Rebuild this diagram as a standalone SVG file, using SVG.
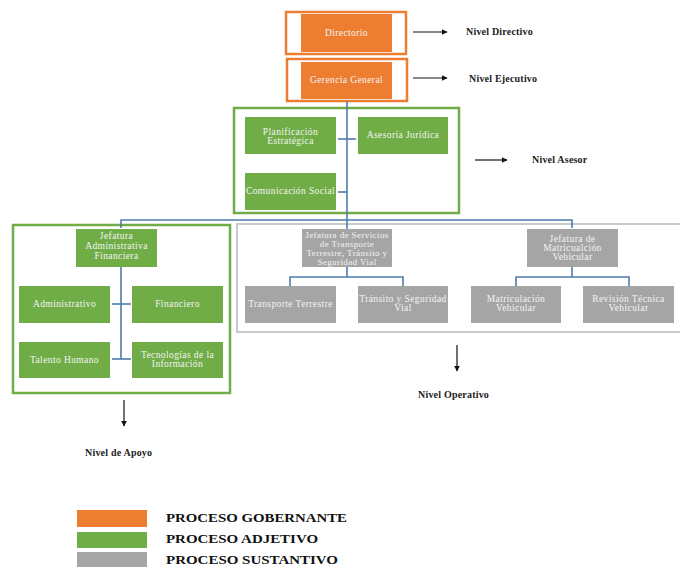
<svg xmlns="http://www.w3.org/2000/svg" width="680" height="567" viewBox="0 0 680 567">
<defs>
<style>
.org{fill:#ED7D31}
.grn{fill:#70AD47}
.gry{fill:#A5A5A5}
.nt{font-family:"Liberation Serif",serif;font-size:9.5px;fill:#F4F4F4;text-anchor:middle;letter-spacing:0.4px}
.nts{font-size:9px}
.lv{font-family:"Liberation Serif",serif;font-size:10px;fill:#222;font-weight:bold;letter-spacing:0.2px}
.lg{font-family:"Liberation Serif",serif;font-size:13px;fill:#111;font-weight:bold}
.con{fill:none;stroke:#4F7BAE;stroke-width:1.6}
.arr{fill:none;stroke:#111;stroke-width:1.2;marker-end:url(#ah)}
</style>
<marker id="ah" viewBox="0 0 10 10" refX="9" refY="5" markerWidth="6" markerHeight="6" markerUnits="userSpaceOnUse" orient="auto">
<path d="M0,0 L10,5 L0,10 z" fill="#111"/>
</marker>
</defs>
<rect width="680" height="567" fill="#fff"/>

<!-- frames -->
<g id="frames">
<rect x="286" y="12" width="120" height="42" fill="none" stroke="#ED7D31" stroke-width="2.5"/>
<rect x="287" y="59" width="120" height="42" fill="none" stroke="#ED7D31" stroke-width="2.5"/>
<rect x="234" y="108" width="225" height="105" fill="none" stroke="#70AD47" stroke-width="2.5"/>
<rect x="13" y="225" width="217" height="168" fill="none" stroke="#70AD47" stroke-width="2.5"/>
<rect x="237" y="224" width="450" height="108" fill="none" stroke="#C9C9C9" stroke-width="2"/>
</g>

<!-- connectors -->
<g id="connectors">
<path class="con" d="M347,101 V221"/>
<path class="con" d="M338,139 H356"/>
<path class="con" d="M338,192 H347"/>
<path class="con" d="M121,228 V220 H572 V228"/>
<path class="con" d="M347,221 V229"/>
<path class="con" d="M121,267 V359"/>
<path class="con" d="M112,304 H131"/>
<path class="con" d="M112,359 H131"/>
<path class="con" d="M347,267 V277"/>
<path class="con" d="M290,286 V277 H403 V286"/>
<path class="con" d="M572,267 V277"/>
<path class="con" d="M516,286 V277 H629 V286"/>
<path class="arr" d="M413,32 H447"/>
<path class="arr" d="M413,78 H447"/>
<path class="arr" d="M475,160 H507"/>
<path class="arr" d="M124,400 V426"/>
<path class="arr" d="M457,345 V371"/>
</g>

<!-- nodes -->
<g id="directorio"><rect class="org" x="301" y="14" width="91" height="38"/><text class="nt" x="346.5" y="36">Directorio</text></g>
<g id="gerencia"><rect class="org" x="301" y="62" width="91" height="37"/><text class="nt" x="346.5" y="83">Gerencia General</text></g>

<g id="planificacion"><rect class="grn" x="245" y="117" width="91" height="37"/><text class="nt" x="290.5" y="135">Planificación</text><text class="nt" x="290.5" y="144">Estratégica</text></g>
<g id="asesoria"><rect class="grn" x="358" y="117" width="90" height="37"/><text class="nt" x="403" y="138">Asesoría Jurídica</text></g>
<g id="comunicacion"><rect class="grn" x="245" y="173" width="91" height="37"/><text class="nt" x="290.5" y="194">Comunicación Social</text></g>

<g id="jef-adm"><rect class="grn" x="76" y="229" width="81" height="38"/><text class="nt" x="116.5" y="239">Jefatura</text><text class="nt" x="116.5" y="249">Administrativa</text><text class="nt" x="116.5" y="259">Financiera</text></g>
<g id="administrativo"><rect class="grn" x="19" y="286" width="91" height="37"/><text class="nt" x="64.5" y="307">Administrativo</text></g>
<g id="financiero"><rect class="grn" x="132" y="286" width="91" height="37"/><text class="nt" x="177.5" y="307">Financiero</text></g>
<g id="talento"><rect class="grn" x="19" y="342" width="91" height="36"/><text class="nt" x="64.5" y="363">Talento Humano</text></g>
<g id="tecnologias"><rect class="grn" x="132" y="342" width="91" height="36"/><text class="nt" x="177.5" y="358">Tecnologías de la</text><text class="nt" x="177.5" y="367">Información</text></g>

<g id="jef-servicios"><rect class="gry" x="302" y="229" width="90" height="38"/><text class="nt nts" x="347" y="238">Jefatura de Servicios</text><text class="nt nts" x="347" y="247">de Transporte</text><text class="nt nts" x="347" y="256">Terrestre, Tránsito y</text><text class="nt nts" x="347" y="265">Seguridad Vial</text></g>
<g id="jef-matriculacion"><rect class="gry" x="527" y="229" width="91" height="38"/><text class="nt" x="572.5" y="242">Jefatura de</text><text class="nt" x="572.5" y="251">Matricualción</text><text class="nt" x="572.5" y="260">Vehicular</text></g>
<g id="transporte"><rect class="gry" x="245" y="286" width="91" height="37"/><text class="nt" x="290.5" y="307">Transporte Terrestre</text></g>
<g id="transito"><rect class="gry" x="358" y="286" width="90" height="37"/><text class="nt" x="403" y="302">Tránsito y Seguridad</text><text class="nt" x="403" y="311">Vial</text></g>
<g id="matriculacion"><rect class="gry" x="471" y="286" width="90" height="37"/><text class="nt" x="516" y="302">Matriculación</text><text class="nt" x="516" y="311">Vehicular</text></g>
<g id="revision"><rect class="gry" x="583" y="286" width="91" height="37"/><text class="nt" x="628.5" y="302">Revisión Técnica</text><text class="nt" x="628.5" y="311">Vehicular</text></g>

<!-- level labels -->
<g id="levels">
<text class="lv" x="466" y="35">Nivel Directivo</text>
<text class="lv" x="469" y="82">Nivel Ejecutivo</text>
<text class="lv" x="532" y="163">Nivel Asesor</text>
<text class="lv" x="418" y="398">Nivel Operativo</text>
<text class="lv" x="85" y="456">Nivel de Apoyo</text>
</g>

<!-- legend -->
<g id="legend">
<rect class="org" x="77" y="510" width="70" height="17"/>
<rect class="grn" x="77" y="532" width="70" height="16"/>
<rect class="gry" x="77" y="552" width="70" height="15"/>
<text class="lg" x="166" y="522" textLength="181" lengthAdjust="spacingAndGlyphs">PROCESO GOBERNANTE</text>
<text class="lg" x="166" y="543" textLength="152" lengthAdjust="spacingAndGlyphs">PROCESO ADJETIVO</text>
<text class="lg" x="166" y="564" textLength="172" lengthAdjust="spacingAndGlyphs">PROCESO SUSTANTIVO</text>
</g>
</svg>
